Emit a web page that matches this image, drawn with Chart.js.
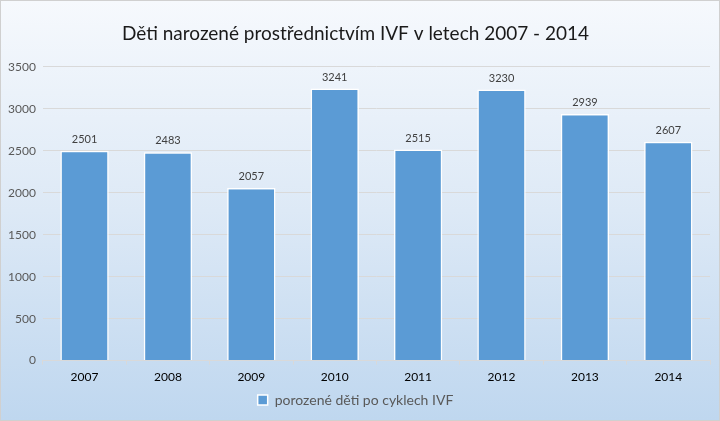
<!DOCTYPE html>
<html>
<head>
<meta charset="utf-8">
<script src="https://cdn.jsdelivr.net/npm/chart.js@4"></script>
<style>
  html, body { margin: 0; padding: 0; }
  .wrap {
    position: relative; width: 718px; height: 419px;
    border: 1px solid #d0d0d0;
    background: linear-gradient(to bottom, #f6f9fd 0%, #dde9f6 50%, #bfd7ef 100%);
  }
</style>
</head>
<body>
<div class="wrap"><canvas id="c"></canvas></div>
<script>
const years = ['2007', '2008', '2009', '2010', '2011', '2012', '2013', '2014'];
const births = [2501, 2483, 2057, 3241, 2515, 3230, 2939, 2607];
const seriesName = 'porozené děti po cyklech IVF';
const titleText = 'Děti narozené prostřednictvím IVF v letech 2007 - 2014';

// hodnoty nad sloupci
const barLabels = {
  id: 'barLabels',
  afterDatasetsDraw(chart) {
    const ctx = chart.ctx;
    const meta = chart.getDatasetMeta(0);
    ctx.save();
    ctx.font = '11px Lato';
    ctx.fillStyle = '#404040';
    ctx.textAlign = 'center';
    ctx.textBaseline = 'bottom';
    meta.data.forEach((bar, i) => {
      ctx.fillText(births[i], bar.x, bar.y - 6);
    });
    ctx.restore();
  }
};

new Chart(document.getElementById('c'), {
  type: 'bar',
  data: {
    labels: years,
    datasets: [{
      label: seriesName,
      data: births,
      backgroundColor: '#5b9bd5',
      borderColor: '#ffffff',
      borderWidth: 1.5,
      barPercentage: 0.58,
      categoryPercentage: 1
    }]
  },
  options: {
    responsive: true, maintainAspectRatio: false, animation: false,
    layout: { padding: { left: 0, right: 9, top: 12, bottom: 3 } },
    plugins: {
      title: {
        display: true, text: titleText,
        font: { family: 'Lato', size: 19, weight: 'normal' }, color: '#1a1a1a',
        padding: { top: 9, bottom: 22 }
      },
      legend: {
        position: 'bottom',
        labels: {
          usePointStyle: true, pointStyle: 'rect', boxWidth: 10, boxHeight: 10,
          font: { family: 'Lato', size: 14 }, color: '#595959', padding: 4
        }
      },
      tooltip: { enabled: false }
    },
    scales: {
      y: {
        min: 0, max: 3500,
        ticks: {
          stepSize: 500, font: { family: 'Lato', size: 12 }, color: '#595959', padding: 7,
          callback: v => String(v)
        },
        grid: { color: '#d9d9d9', drawTicks: false },
        border: { display: false }
      },
      x: {
        ticks: { font: { family: 'Lato', size: 12 }, color: '#000000', padding: 5 },
        grid: { offset: true, drawOnChartArea: false, color: '#d9d9d9', tickLength: 4 },
        border: { color: '#d9d9d9' }
      }
    }
  },
  plugins: [barLabels]
});
</script>
</body>
</html>
